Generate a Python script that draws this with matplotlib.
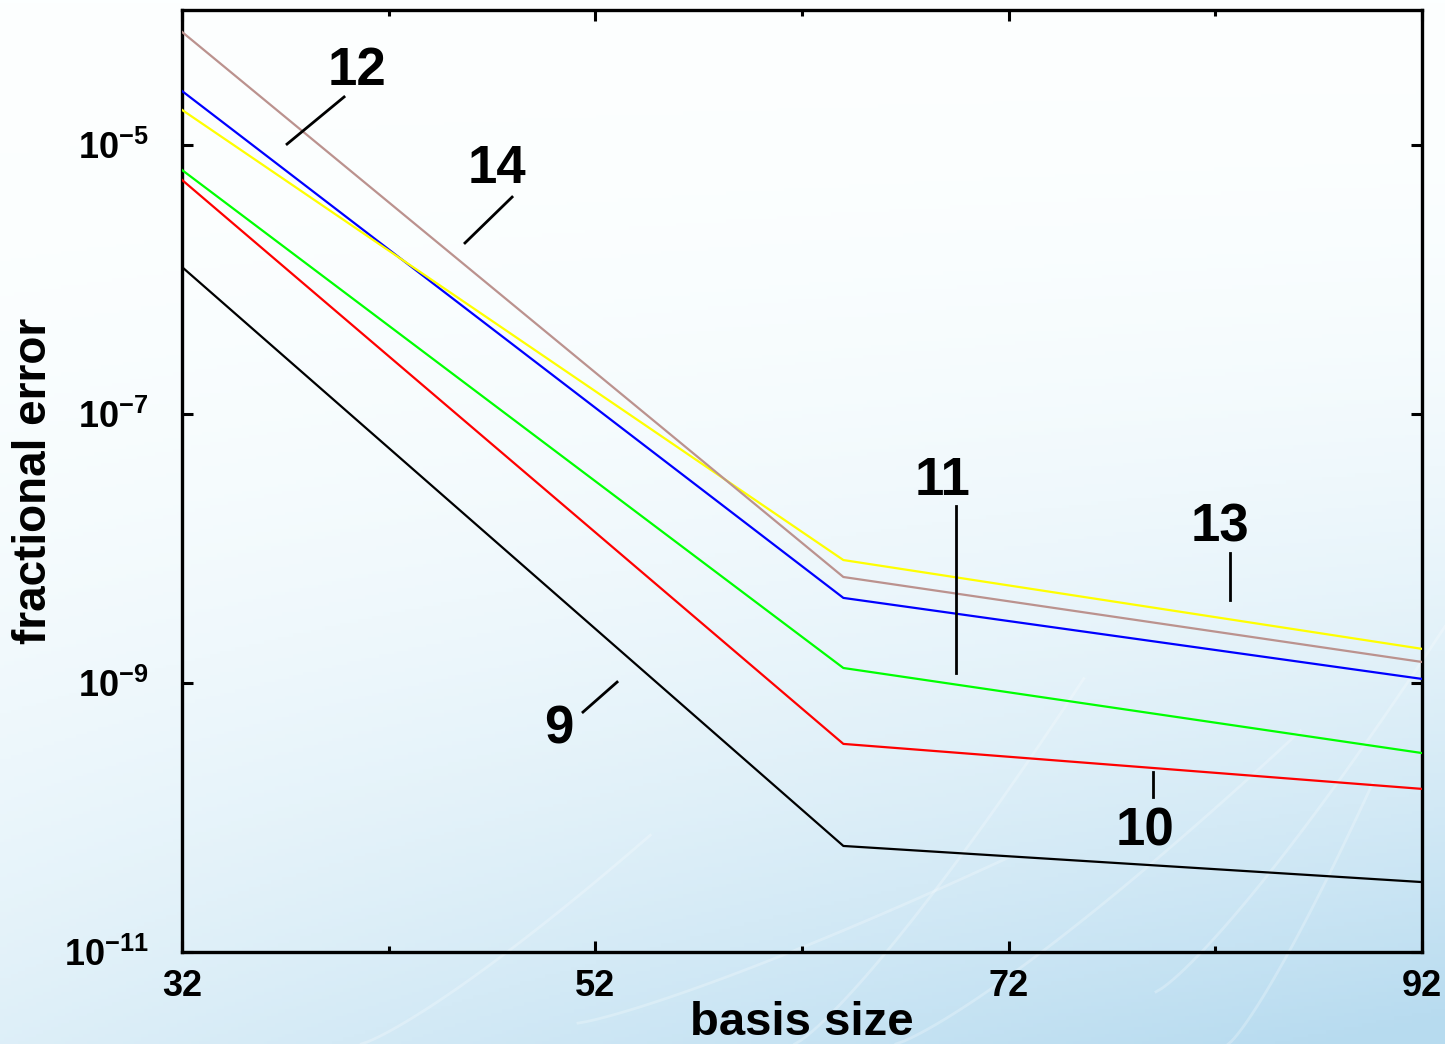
import numpy as np
import matplotlib
matplotlib.use("Agg")
import matplotlib.pyplot as plt
from matplotlib.ticker import FixedLocator, FuncFormatter

plt.rcParams['font.family'] = ['Liberation Sans', 'DejaVu Sans']
plt.rcParams['font.weight'] = 'bold'
plt.rcParams['mathtext.fontset'] = 'custom'
plt.rcParams['mathtext.rm'] = 'Liberation Sans:bold'
plt.rcParams['mathtext.bf'] = 'Liberation Sans:bold'

# basis sizes and fractional errors for each curve
basis = [32, 64, 92]
err_9 = [1.23e-6, 6.14e-11, 3.31e-11]
err_10 = [5.46e-6, 3.52e-10, 1.63e-10]
err_11 = [6.47e-6, 1.29e-9, 3.01e-10]
err_12 = [2.50e-5, 4.28e-9, 1.07e-9]
err_13 = [1.81e-5, 8.18e-9, 1.79e-9]
err_14 = [6.87e-5, 6.12e-9, 1.43e-9]

curve_names = ['9', '10', '11', '12', '13', '14']
curves = [err_9, err_10, err_11, err_12, err_13, err_14]
colors = ['black', '#ff0000', '#00ff00', '#0000ff', '#ffff00', '#bb928e']

# label text position and pointer line (x0, log y0, x1, log y1)
label_xy = {'12': (40.47, 10**-4.453), '14': (47.24, 10**-5.181),
            '11': (68.82, 10**-7.50), '13': (82.23, 10**-7.842),
            '10': (78.60, 10**-10.101), '9': (50.24, 10**-9.343)}
pointers = {'12': (37.08, -4.996, 39.84, -4.646),
            '14': (45.69, -5.731, 47.97, -5.390),
            '11': (69.45, -7.686, 69.45, -8.927),
            '13': (82.71, -8.035, 82.71, -8.384),
            '10': (78.98, -9.662, 78.98, -9.848),
            '9': (51.40, -9.217, 53.05, -8.994)}

fig = plt.figure(figsize=(14.45, 10.44), dpi=100)

# pale blue backdrop, white at the top, bluer towards the bottom right
bg = fig.add_axes([0, 0, 1, 1], zorder=-5)
gy, gx = np.mgrid[0:1:300j, 0:1:400j]
t = np.clip(0.45 * gy**2.2 + 0.6 * gx * gy**2.0, 0, 1)
top = np.array([0.99, 1.0, 1.0])
bot = np.array([0.72, 0.86, 0.94])
img = top[None, None, :] * (1 - t[..., None]) + bot[None, None, :] * t[..., None]
bg.imshow(img, origin='upper', extent=[0, 1, 0, 1], aspect='auto')
# a few faint white streaks near the bottom
for x0, x1, y0, y1 in [(0.55, 0.75, 0.0, 0.35), (0.62, 0.9, 0.0, 0.3), (0.8, 1.0, 0.05, 0.4),
                       (0.25, 0.45, 0.0, 0.2), (0.4, 0.7, 0.02, 0.18), (0.85, 0.95, 0.0, 0.25)]:
    s = np.linspace(0, 1, 50)
    bg.plot(x0 + (x1 - x0) * s, y0 + (y1 - y0) * s**1.2, color='white', alpha=0.25, lw=2)
bg.set_xlim(0, 1)
bg.set_ylim(0, 1)
bg.axis('off')

ax = fig.add_axes([0.1260, 0.0881, 0.8581, 0.9023])
ax.set_facecolor('none')

for name, vals, c in zip(curve_names, curves, colors):
    ax.plot(basis, vals, color=c, lw=1.6, zorder=3)

for name in curve_names:
    lx, ly = label_xy[name]
    ax.text(lx, ly, name, fontsize=38, fontweight='bold', ha='center', va='center')
    x0, y0, x1, y1 = pointers[name]
    ax.plot([x0, x1], [10**y0, 10**y1], color='black', lw=2, zorder=4)

ax.set_yscale('log')
ax.set_xlim(32, 92)
ax.set_ylim(1e-11, 1e-4)

ax.xaxis.set_major_locator(FixedLocator([32, 52, 72, 92]))
ax.xaxis.set_minor_locator(FixedLocator([42, 62, 82]))
ax.yaxis.set_major_locator(FixedLocator([1e-11, 1e-9, 1e-7, 1e-5]))
ax.yaxis.set_minor_locator(FixedLocator([]))
ax.yaxis.set_major_formatter(
    FuncFormatter(lambda v, p: r'$10^{%d}$' % round(np.log10(v))))

ax.tick_params(which='both', direction='in', top=True, right=True, width=2.2, labelsize=26)
ax.tick_params(which='major', length=8)
ax.tick_params(which='minor', length=4)
ax.tick_params(axis='x', pad=12)
ax.tick_params(axis='y', pad=24)
for lab in ax.get_xticklabels() + ax.get_yticklabels():
    lab.set_fontweight('bold')
for sp in ax.spines.values():
    sp.set_linewidth(2.4)

ax.set_xlabel('basis size', fontsize=34, fontweight='bold', labelpad=-2)
ax.set_ylabel('fractional error', fontsize=33, fontweight='bold', labelpad=6)

fig.savefig('out.png', dpi=100)
